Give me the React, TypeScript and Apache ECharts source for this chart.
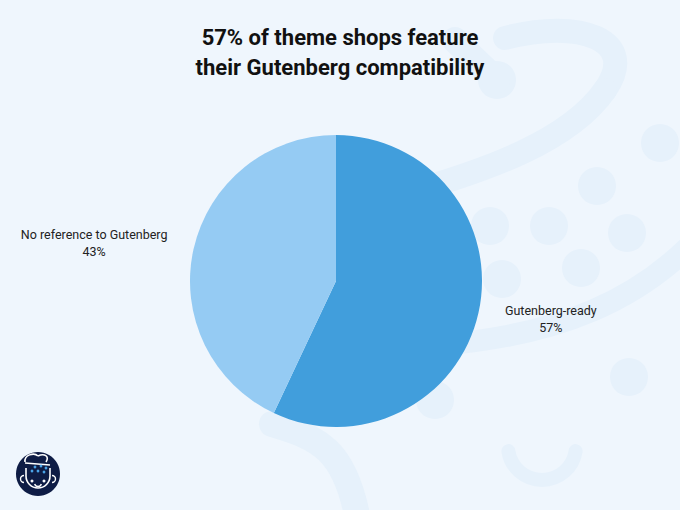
import React, { useEffect, useRef } from "react";
import * as echarts from "echarts";

const categories = ["Gutenberg-ready", "No reference to Gutenberg"];
const values = [57, 43];
const sliceColors = ["#419edc", "#95cbf3"];
const titleLines = ["57% of theme shops feature", "their Gutenberg compatibility"];

const BG = "#eff6fd";
const DECO = "#e6f1fb";

export default function App() {
  const ref = useRef<HTMLDivElement>(null);
  useEffect(() => {
    document.body.style.margin = "0";
    const chart = echarts.init(ref.current!, undefined, { renderer: "svg" });
    const dots = [
      [660, 143], [597, 186], [490, 226], [549, 226], [627, 233],
      [502, 279], [581, 268], [629, 377], [435, 400], [497, 80],
    ];
    const decoStroke = { stroke: DECO, lineWidth: 24, lineCap: "round", fill: null };
    const graphic: any[] = [
      ...dots.map(([x, y]) => ({
        type: "circle", z: -10, shape: { cx: x, cy: y, r: 19 }, style: { fill: DECO },
      })),
      { type: "arc", z: -10, shape: { cx: 542, cy: 446, r: 34, startAngle: 0.15, endAngle: Math.PI - 0.15 }, style: { ...decoStroke, lineWidth: 14 } },
      { type: "bezierCurve", z: -10, shape: { x1: 505, y1: 38, cpx1: 580, cpy1: 18, cpx2: 640, cpy2: 40, x2: 605, y2: 90 }, style: decoStroke },
      { type: "bezierCurve", z: -10, shape: { x1: 605, y1: 90, cpx1: 570, cpy1: 140, cpx2: 490, cpy2: 170, x2: 400, y2: 195 }, style: decoStroke },
      { type: "bezierCurve", z: -10, shape: { x1: 700, y1: 235, cpx1: 640, cpy1: 300, cpx2: 560, cpy2: 335, x2: 440, y2: 345 }, style: { ...decoStroke, lineWidth: 22 } },
      { type: "bezierCurve", z: -10, shape: { x1: 272, y1: 424, cpx1: 320, cpy1: 438, cpx2: 345, cpy2: 450, x2: 358, y2: 520 }, style: { ...decoStroke, lineWidth: 26 } },
      { type: "bezierCurve", z: -10, shape: { x1: 455, y1: 40, cpx1: 470, cpy1: 55, cpx2: 485, cpy2: 70, x2: 497, y2: 80 }, style: { ...decoStroke, lineWidth: 26 } },
      // logo
      { type: "circle", z: 10, shape: { cx: 38, cy: 474, r: 22 }, style: { fill: "#0e1c45" } },
      { type: "arc", z: 11, shape: { cx: 38, cy: 476, r: 12, startAngle: 0, endAngle: Math.PI }, style: { stroke: "#ffffff", lineWidth: 1.6, fill: null } },
      { type: "line", z: 11, shape: { x1: 26, y1: 476, x2: 26, y2: 468 }, style: { stroke: "#ffffff", lineWidth: 1.6 } },
      { type: "line", z: 11, shape: { x1: 50, y1: 476, x2: 50, y2: 468 }, style: { stroke: "#ffffff", lineWidth: 1.6 } },
      { type: "arc", z: 11, shape: { cx: 24, cy: 479, r: 3.5, startAngle: Math.PI / 2, endAngle: Math.PI * 1.5 }, style: { stroke: "#ffffff", lineWidth: 1.4, fill: null } },
      { type: "arc", z: 11, shape: { cx: 52, cy: 479, r: 3.5, startAngle: -Math.PI / 2, endAngle: Math.PI / 2 }, style: { stroke: "#ffffff", lineWidth: 1.4, fill: null } },
      { type: "bezierCurve", z: 11, shape: { x1: 25, y1: 462, cpx1: 24, cpy1: 455, cpx2: 34, cpy2: 452, x2: 38, y2: 456 }, style: { stroke: "#ffffff", lineWidth: 1.6, fill: null } },
      { type: "bezierCurve", z: 11, shape: { x1: 38, y1: 456, cpx1: 44, cpy1: 453, cpx2: 50, cpy2: 456, x2: 46, y2: 462 }, style: { stroke: "#ffffff", lineWidth: 1.6, fill: null } },
      { type: "line", z: 11, shape: { x1: 25, y1: 463, x2: 50, y2: 465 }, style: { stroke: "#ffffff", lineWidth: 1.6 } },
      ...[[35, 467], [41, 466], [46, 468], [32, 471], [38, 471], [44, 472]].map(([x, y]) => ({
        type: "circle", z: 11, shape: { cx: x, cy: y, r: 1.4 }, style: { fill: "#4aa3e8" },
      })),
      { type: "circle", z: 11, shape: { cx: 32, cy: 481, r: 1.5 }, style: { fill: "#ffffff" } },
      { type: "circle", z: 11, shape: { cx: 44, cy: 481, r: 1.5 }, style: { fill: "#ffffff" } },
      { type: "arc", z: 11, shape: { cx: 38, cy: 483, r: 3.5, startAngle: 0.3, endAngle: Math.PI - 0.3 }, style: { stroke: "#ffffff", lineWidth: 1.4, fill: null } },
    ];

    const labelWidths = [94, 148];
    const option: any = {
      animation: false,
      backgroundColor: BG,
      title: {
        text: titleLines.join("\n"),
        left: "center",
        top: 17,
        textStyle: {
          fontFamily: "Roboto",
          fontSize: 22,
          fontWeight: "bold",
          lineHeight: 30,
          color: "#111111",
        },
      },
      graphic,
      series: [
        {
          type: "pie",
          z: 2,
          center: [336, 281],
          radius: [0, 146],
          startAngle: 90,
          clockwise: true,
          avoidLabelOverlap: false,
          labelLine: { show: false, length: 26, length2: 0 },
          label: {
            show: true,
            position: "outside",
            distanceToLabelLine: 0,
            fontFamily: "Roboto",
            fontSize: 12.5,
            color: "#222222",
          },
          emphasis: { disabled: true },
          data: categories.map((name, i) => ({
            name,
            value: values[i],
            itemStyle: { color: sliceColors[i] },
            label: {
              formatter: "{a|{b}}\n{a|{d}%}",
              rich: {
                a: {
                  width: labelWidths[i],
                  align: "center",
                  fontFamily: "Roboto",
                  fontSize: 12.5,
                  lineHeight: 17,
                  color: "#222222",
                },
              },
            },
          })),
        },
      ],
    };
    chart.setOption(option);
    return () => chart.dispose();
  }, []);
  return <div ref={ref} style={{ width: 680, height: 510 }} />;
}
